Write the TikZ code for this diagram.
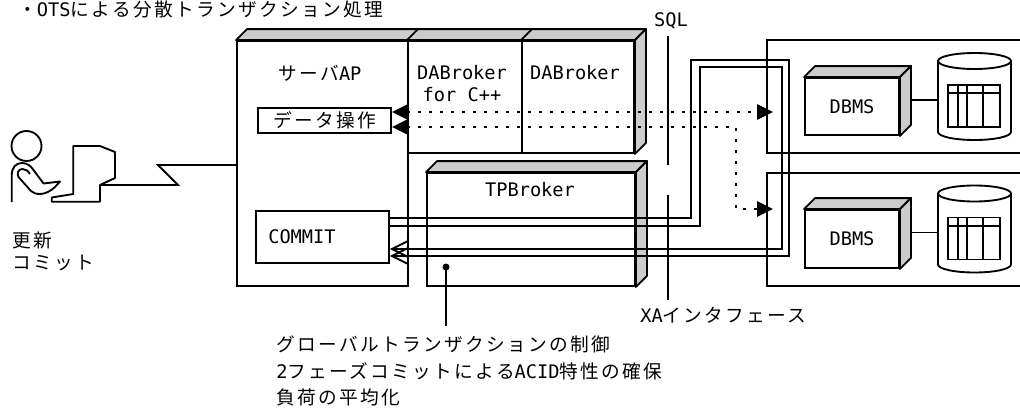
\documentclass[tikz,border=0pt]{standalone}
\usepackage{fontspec}
\usetikzlibrary{arrows.meta,fit}
\newfontfamily\jp[LetterSpace=12.5]{Noto Sans CJK JP}
\newfontfamily\hwfont{DejaVu Sans Mono}
\newcommand\hw[1]{{\hwfont #1}}
\tikzset{
  ln/.style={line width=1.4pt},
  blk/.style={ln, draw, fill=white, inner sep=0pt},
  face/.style={ln, draw, fill=gray!40, line join=round},
  txt/.style={inner sep=0pt, font=\fontsize{14}{16.5}\selectfont\jp},
  dots/.style={ln, dash pattern=on 2pt off 6.25pt},
  tri/.tip={Triangle[length=12pt,width=11.5pt]},
  barb/.tip={Straight Barb[length=12pt,width=12pt]},
}
% shaded top and side faces of a block drawn as a fit node
\newcommand\topface[1]{\draw[face] (#1.north west) -- ++(11,-11) -- ([shift={(11,-11)}]#1.north east) -- (#1.north east) -- cycle;}
\newcommand\sideface[1]{\draw[face] (#1.north east) -- ++(11,-11) -- ([shift={(11,-11)}]#1.south east) -- (#1.south east) -- cycle;}
% database drum with a table inside, shifted down by #2
\newcommand\drum[2]{%
  \begin{scope}[shift={(0,#2)}]
    \draw[ln,fill=white] (938,61) -- (938,132) arc[start angle=180,end angle=0,x radius=36.5,y radius=8] -- (1011,61);
    \draw[ln,fill=white] (974.5,61) ellipse[x radius=36.5,y radius=8];
    \draw[ln] (948.3,85) rectangle (1000,127);
    \draw[ln] (948.3,93.3) -- (1000,93.3) (958.3,85) -- (958.3,127) (966.7,85) -- (966.7,127) (983.3,85) -- (983.3,127);
    \coordinate (#1) at (938,100);
  \end{scope}}
\begin{document}
\begin{tikzpicture}[x=0.75pt,y=-0.75pt]
\useasboundingbox (0,0) rectangle (1020,407);

% user at terminal
\draw[ln] (26.5,146) circle[radius=15];
\draw[ln,line join=round] (11.7,202) -- (11.7,176) .. controls (11.7,167) and (16,163) .. (22,163) .. controls (27,163) and (31,166) .. (33.5,170) -- (43.5,183.5) -- (60,181.5) -- (55,187) .. controls (51,191) and (45,194) .. (40,194) .. controls (36,194) and (33,193) .. (31,191) -- (18.5,177) .. controls (16.5,173) and (18.5,169) .. (22.5,169) .. controls (26,169) and (28,171) .. (30,174);
\draw[ln,line join=round] (73.3,146) -- (100,146) -- (115,152) -- (115,178) -- (100,185) -- (100,201.7) -- (51.7,201.7) -- (51.7,197.5) -- (73.3,194) -- cycle;
\coordinate (term) at (100,185);

% server side blocks
\node[blk, fit={(237,41)(408,286)}] (server) {};
\topface{server}
\node[blk, fit={(408,41)(522,153)}] (dab1) {};
\topface{dab1}
\node[blk, fit={(522,41)(634,153)}] (dab2) {};
\topface{dab2}\sideface{dab2}
\node[blk, fit={(427,173)(635,286)}] (tp) {};
\topface{tp}\sideface{tp}
\node[blk, fit={(258,108)(391,133)}] (dataop) {};
\node[blk, fit={(256,211)(389,263)}] (commit) {};

% database hosts
\node[inner sep=0pt, fit={(767,40)(1020,153)}] (db1) {};
\draw[ln] (db1.north east) -- (db1.north west) -- (db1.south west) -- (db1.south east);
\node[inner sep=0pt, fit={(767,173)(1020,286)}] (db2) {};
\draw[ln] (db2.north east) -- (db2.north west) -- (db2.south west) -- (db2.south east);
\node[blk, fit={(805,78)(899,135)}] (dbms1) {};
\topface{dbms1}\sideface{dbms1}
\node[blk, fit={(805,210)(899,268)}] (dbms2) {};
\topface{dbms2}\sideface{dbms2}
\drum{disk1}{0}
\drum{disk2}{132.5}
\draw[ln] ([shift={(11,-6.5)}]dbms1.east) -- (disk1);
\draw[ln] ([shift={(11,-6.5)}]dbms2.east) -- (disk2);

% terminal line
\draw[ln] (term) -- (178,185) -- (158,165) -- ([shift={(0,1.5)}]server.west);

% SQL access (dotted, both directions)
\coordinate (in1) at (773,112);
\coordinate (in2) at (773,209);
\draw[dots, {tri}-{tri}] ([shift={(0,-8.5)}]dataop.east) -- (in1);
\draw[dots, {tri}-{tri}] ([shift={(0,6.5)}]dataop.east) -- (736,127) -- (736,209) -- (in2);

% XA loops from COMMIT
\draw[ln, -{barb}] ([shift={(0,-19)}]commit.east) -- (691,218) -- (691,60) -- (789,60) -- (789,256) -- ([shift={(0,19)}]commit.east);
\draw[ln, -{barb}] ([shift={(0,-11)}]commit.east) -- (700,226) -- (700,67) -- (782,67) -- (782,249) -- ([shift={(0,12)}]commit.east);

% interface markers
\coordinate (sqltop) at (668,36);
\coordinate (sqlbot) at (668,165);
\coordinate (xatop) at (668,195);
\coordinate (xabot) at (668,300);
\draw[ln] (sqltop) -- (sqlbot);
\draw[ln] (xatop) -- (xabot);
\coordinate (tpdot) at (446,267);
\coordinate (tpnote) at (446,326);
\fill (tpdot) circle[radius=3.5];
\draw[ln] (tpdot) -- (tpnote);

% labels
\node[txt, anchor=west] (title) at (18,9) {・\hw{OTS}による分散トランザクション処理};
\node[txt] (lsrv) at (320,73) {サーバ\hw{AP}};
\node[txt, align=center] (ldab1) at (462,84) {\hw{DABroker}\\\hw{for C++}};
\node[txt] (ldab2) at (575,73) {\hw{DABroker}};
\node[txt] (lop) at (dataop) {データ操作};
\node[txt] (ltp) at (530,190) {\hw{TPBroker}};
\node[txt, anchor=west] (lcommit) at (268,236.5) {\hw{COMMIT}};
\node[txt] (ldbms1) at (dbms1) {\hw{DBMS}};
\node[txt] (ldbms2) at (dbms2) {\hw{DBMS}};
\node[txt] (sql) at (671,21) {\hw{SQL}};
\node[txt, anchor=west] (xa) at (640,315) {\hw{XA}インタフェース};
\node[txt, align=left, anchor=west] (luser) at (12.5,251) {更新\\コミット};
\node[txt, anchor=west] (n1) at (276,344) {グローバルトランザクションの制御};
\node[txt, anchor=west] (n2) at (276,371) {\hw{2}フェーズコミットによる\hw{ACID}特性の確保};
\node[txt, anchor=west] (n3) at (276,397) {負荷の平均化};
\end{tikzpicture}
\end{document}
